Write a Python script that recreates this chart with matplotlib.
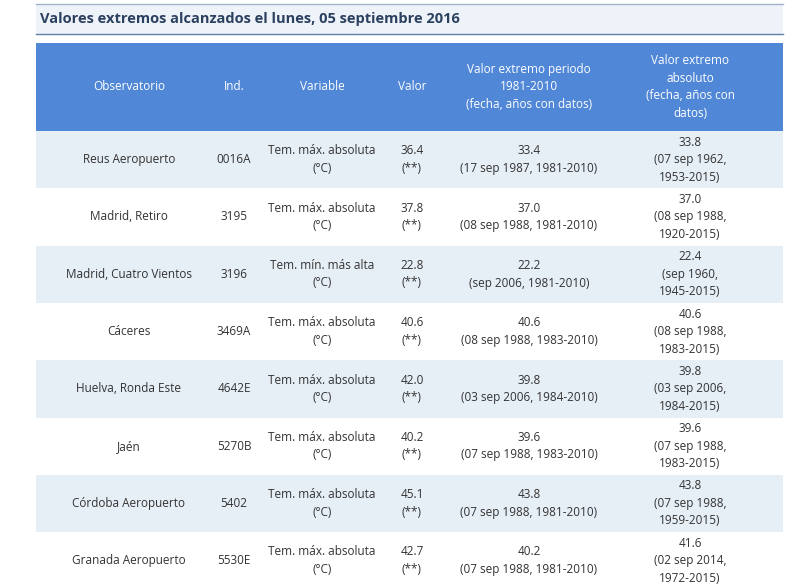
import matplotlib.pyplot as plt
from matplotlib.patches import Rectangle

plt.rcParams['font.family'] = 'Open Sans'

title = "Valores extremos alcanzados el lunes, 05 septiembre 2016"
headers = ["Observatorio", "Ind.", "Variable", "Valor",
           "Valor extremo periodo\n1981-2010\n(fecha, años con datos)",
           "Valor extremo\nabsoluto\n(fecha, años con\ndatos)"]
stations = ["Reus Aeropuerto", "Madrid, Retiro", "Madrid, Cuatro Vientos", "Cáceres",
            "Huelva, Ronda Este", "Jaén", "Córdoba Aeropuerto", "Granada Aeropuerto"]
codes = ["0016A", "3195", "3196", "3469A", "4642E", "5270B", "5402", "5530E"]
variables = ["Tem. máx. absoluta\n(°C)", "Tem. máx. absoluta\n(°C)", "Tem. mín. más alta\n(°C)",
             "Tem. máx. absoluta\n(°C)", "Tem. máx. absoluta\n(°C)", "Tem. máx. absoluta\n(°C)",
             "Tem. máx. absoluta\n(°C)", "Tem. máx. absoluta\n(°C)"]
values = [36.4, 37.8, 22.8, 40.6, 42.0, 40.2, 45.1, 42.7]
period_values = [33.4, 37.0, 22.2, 40.6, 39.8, 39.6, 43.8, 40.2]
period_dates = ["17 sep 1987, 1981-2010", "08 sep 1988, 1981-2010", "sep 2006, 1981-2010",
                "08 sep 1988, 1983-2010", "03 sep 2006, 1984-2010", "07 sep 1988, 1983-2010",
                "07 sep 1988, 1981-2010", "07 sep 1988, 1981-2010"]
abs_values = [33.8, 37.0, 22.4, 40.6, 39.8, 39.6, 43.8, 41.6]
abs_dates = ["(07 sep 1962,\n1953-2015)", "(08 sep 1988,\n1920-2015)", "(sep 1960,\n1945-2015)",
             "(08 sep 1988,\n1983-2015)", "(03 sep 2006,\n1984-2015)", "(07 sep 1988,\n1983-2015)",
             "(07 sep 1988,\n1959-2015)", "(02 sep 2014,\n1972-2015)"]

W, H = 793, 586
fig = plt.figure(figsize=(W / 100, H / 100), dpi=100)
ax = fig.add_axes([0, 0, 1, 1])
ax.set_xlim(0, W)
ax.set_ylim(H, 0)
ax.axis('off')

left, right = 36, 783
col_x = [129, 234, 322, 412, 529, 690]
txt = '#333333'

# title box
ax.add_patch(Rectangle((left, 4), right - left, 30, facecolor='#eef3fa', edgecolor='none'))
ax.plot([left, right], [4, 4], color='#9fb3cc', lw=1)
ax.plot([left, right], [34, 34], color='#5f7fa8', lw=1)
ax.text(left + 4, 19, title, fontsize=10.5, fontweight='bold', color='#2c4160', va='center')

# header
ax.add_patch(Rectangle((left, 43), right - left, 88, facecolor='#5087d7', edgecolor='none'))
for x, h in zip(col_x, headers):
    ax.text(x, 87, h, ha='center', va='center', color='white', fontsize=8.5, linespacing=1.45)

# rows
row_h = 57.3
for i in range(len(stations)):
    y0 = 131 + i * row_h
    yc = y0 + row_h / 2
    if i % 2 == 0:
        ax.add_patch(Rectangle((left, y0), right - left, row_h, facecolor='#e6eef6', edgecolor='none'))
    cells = [stations[i], codes[i], variables[i], f"{values[i]:.1f}\n(**)",
             f"{period_values[i]:.1f}\n({period_dates[i]})",
             f"{abs_values[i]:.1f}\n{abs_dates[i]}"]
    for x, c in zip(col_x, cells):
        ax.text(x, yc, c, ha='center', va='center', color=txt, fontsize=8.5, linespacing=1.45)

fig.savefig('out.png', dpi=100)
